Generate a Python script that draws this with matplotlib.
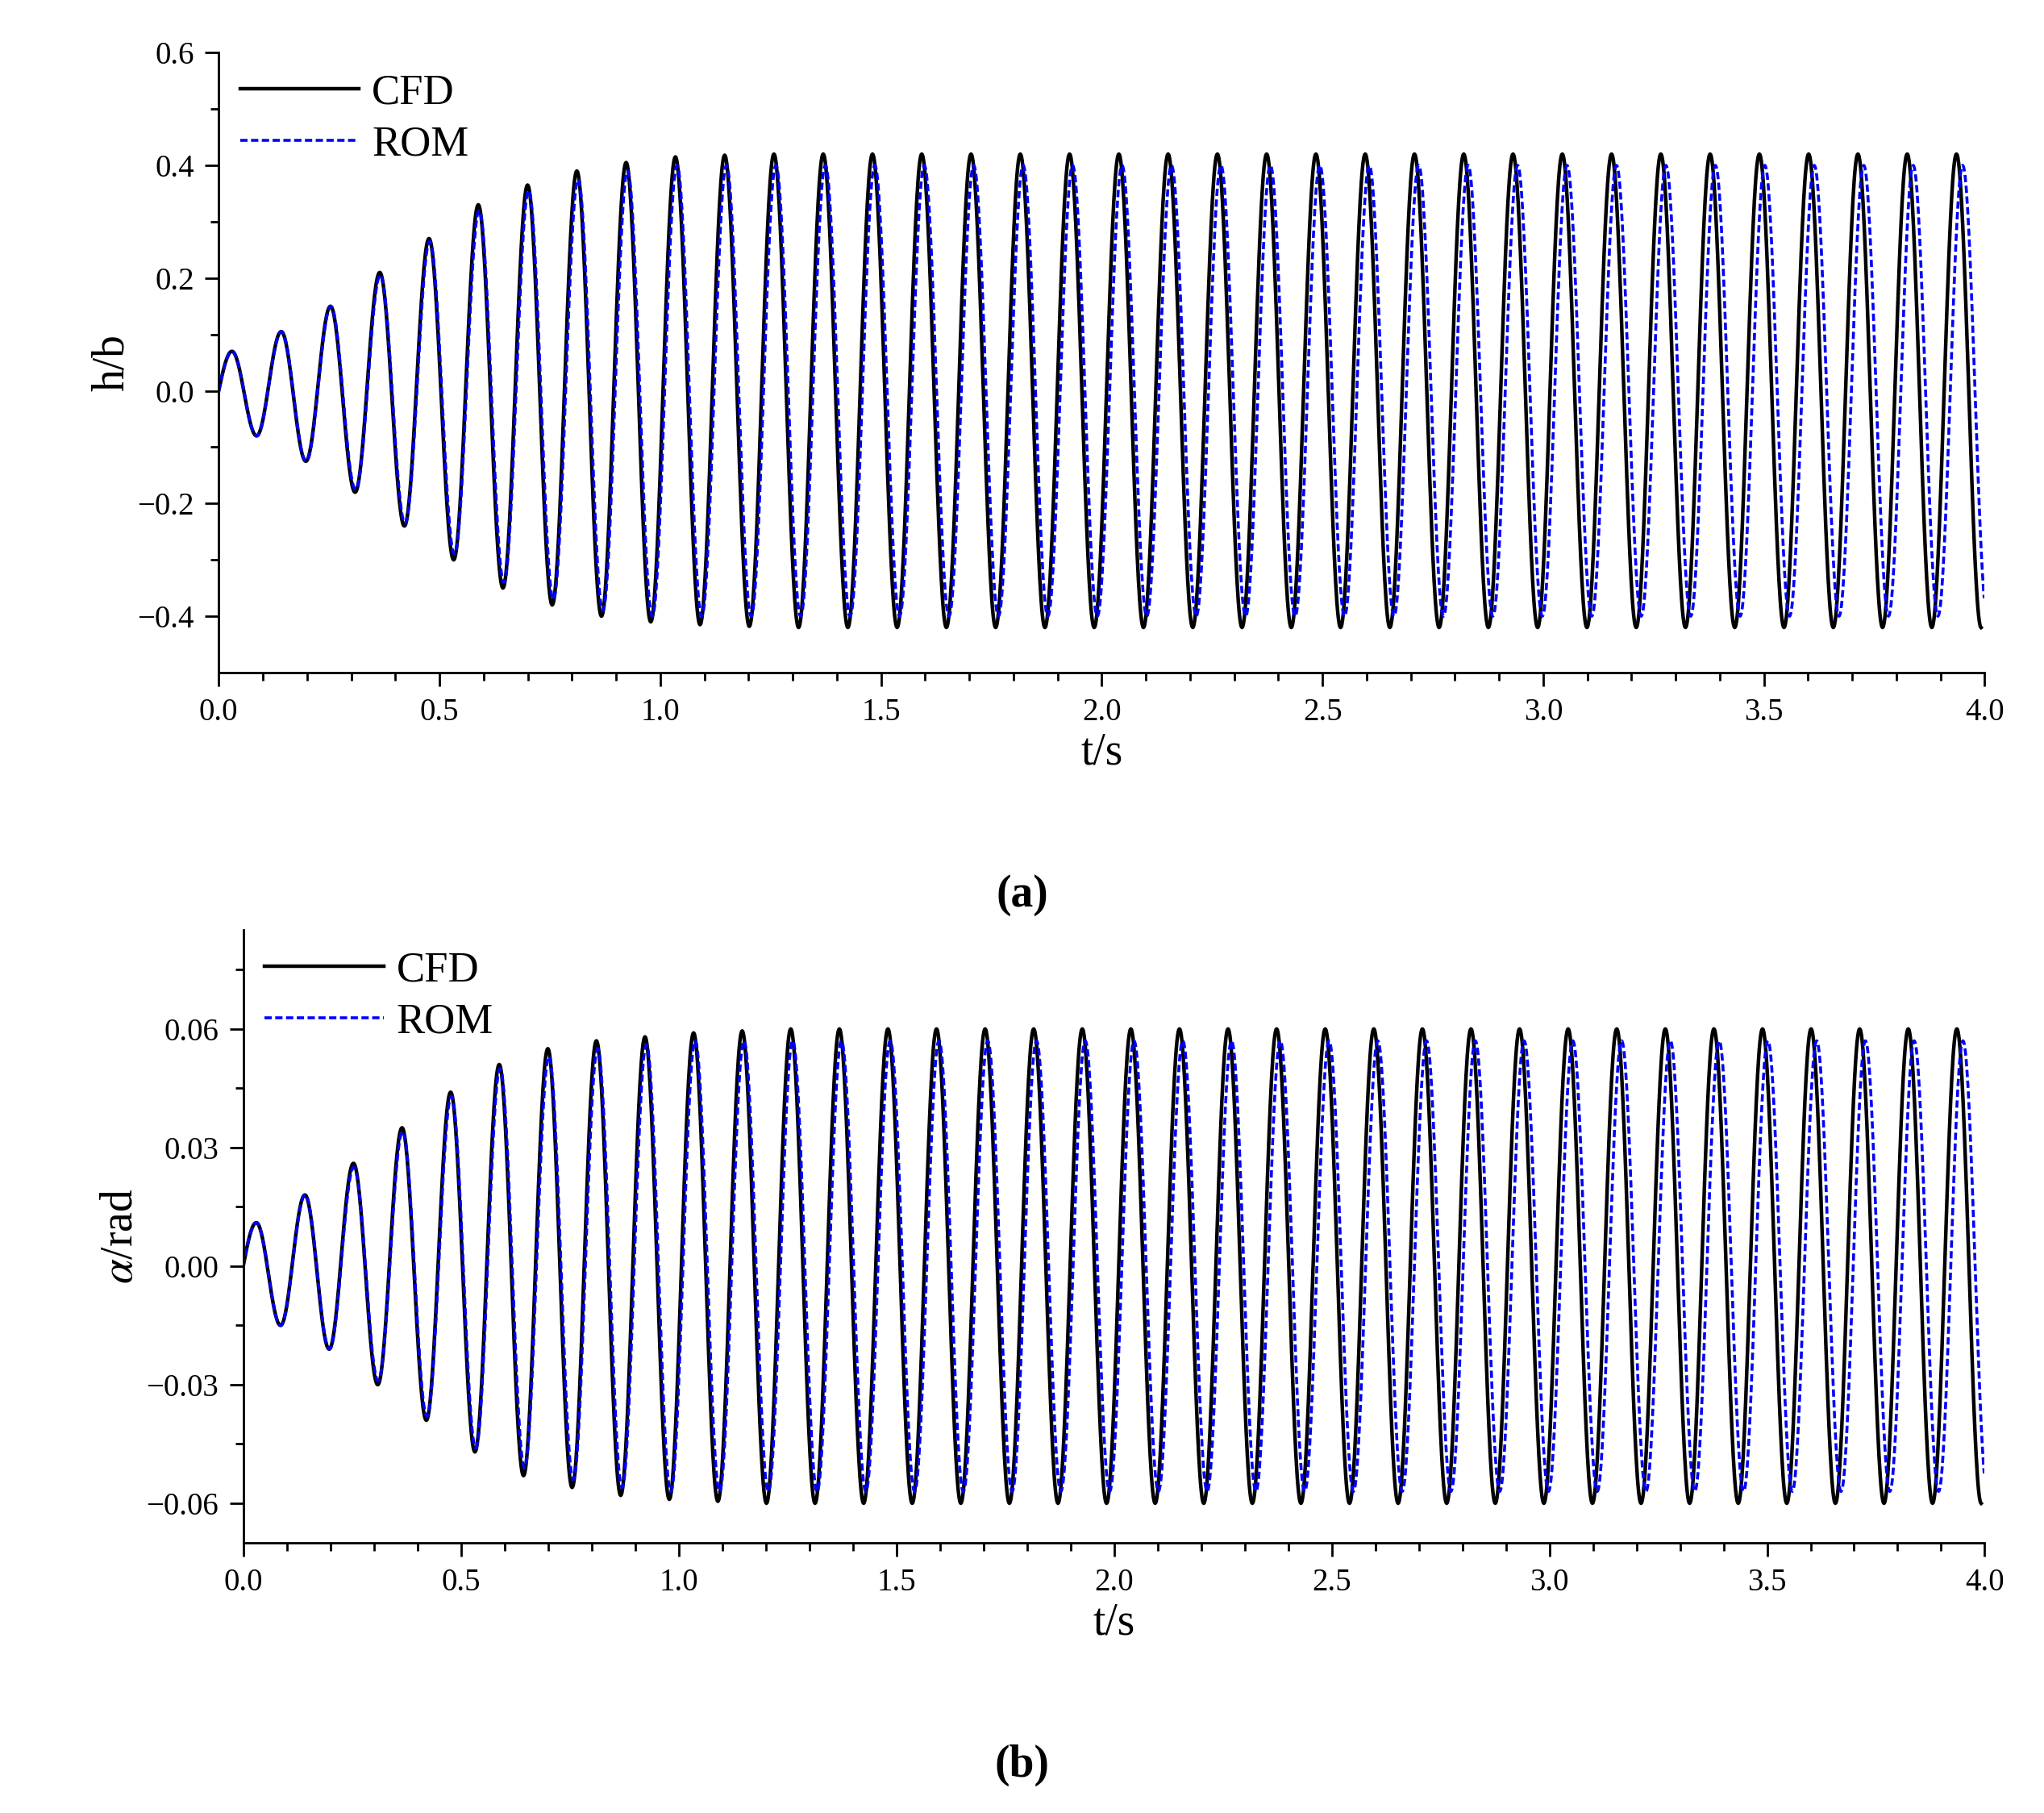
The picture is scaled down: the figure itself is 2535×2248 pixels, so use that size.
import numpy as np
import matplotlib.pyplot as plt

plt.rcParams['font.family'] = 'Liberation Serif'
plt.rcParams['mathtext.fontset'] = 'stix'

# extrema (peak, trough per cycle)
h_cfd_peaks = [0.07, 0.105, 0.15, 0.21, 0.27, 0.33, 0.365, 0.39, 0.405, 0.415, 0.418, 0.42,
               0.42, 0.42, 0.42, 0.42, 0.42, 0.42, 0.42, 0.42, 0.42, 0.42, 0.42, 0.42,
               0.42, 0.42, 0.42, 0.42, 0.42, 0.42, 0.42, 0.42, 0.42, 0.42, 0.42, 0.42]
h_cfd_troughs = [-0.08, -0.125, -0.18, -0.24, -0.30, -0.35, -0.38, -0.40, -0.41, -0.415, -0.418, -0.42,
                 -0.42, -0.42, -0.42, -0.42, -0.42, -0.42, -0.42, -0.42, -0.42, -0.42, -0.42, -0.42,
                 -0.42, -0.42, -0.42, -0.42, -0.42, -0.42, -0.42, -0.42, -0.42, -0.42, -0.42, -0.42]
h_rom_peaks = [0.07, 0.105, 0.15, 0.205, 0.265, 0.32, 0.355, 0.375, 0.39, 0.40, 0.40, 0.40,
               0.40, 0.40, 0.40, 0.40, 0.40, 0.40, 0.40, 0.40, 0.40, 0.40, 0.40, 0.40,
               0.40, 0.40, 0.40, 0.40, 0.40, 0.40, 0.40, 0.40, 0.40, 0.40, 0.40, 0.40]
h_rom_troughs = [-0.08, -0.125, -0.175, -0.235, -0.29, -0.34, -0.37, -0.39, -0.40, -0.40, -0.40, -0.40,
                 -0.40, -0.40, -0.40, -0.40, -0.40, -0.40, -0.40, -0.40, -0.40, -0.40, -0.40, -0.40,
                 -0.40, -0.40, -0.40, -0.40, -0.40, -0.40, -0.40, -0.40, -0.40, -0.40, -0.40, -0.40]

a_cfd_peaks = [0.011, 0.018, 0.026, 0.035, 0.044, 0.051, 0.055, 0.057, 0.058, 0.059, 0.0595, 0.06,
               0.06, 0.06, 0.06, 0.06, 0.06, 0.06, 0.06, 0.06, 0.06, 0.06, 0.06, 0.06,
               0.06, 0.06, 0.06, 0.06, 0.06, 0.06, 0.06, 0.06, 0.06, 0.06, 0.06, 0.06]
a_cfd_troughs = [-0.015, -0.021, -0.030, -0.039, -0.047, -0.053, -0.056, -0.058, -0.059, -0.0595, -0.06, -0.06,
                 -0.06, -0.06, -0.06, -0.06, -0.06, -0.06, -0.06, -0.06, -0.06, -0.06, -0.06, -0.06,
                 -0.06, -0.06, -0.06, -0.06, -0.06, -0.06, -0.06, -0.06, -0.06, -0.06, -0.06, -0.06]
a_rom_peaks = [0.011, 0.018, 0.025, 0.034, 0.043, 0.050, 0.053, 0.055, 0.056, 0.057, 0.057, 0.057,
               0.057, 0.057, 0.057, 0.057, 0.057, 0.057, 0.057, 0.057, 0.057, 0.057, 0.057, 0.057,
               0.057, 0.057, 0.057, 0.057, 0.057, 0.057, 0.057, 0.057, 0.057, 0.057, 0.057, 0.057]
a_rom_troughs = [-0.015, -0.021, -0.029, -0.038, -0.046, -0.051, -0.054, -0.056, -0.057, -0.057, -0.057, -0.057,
                 -0.057, -0.057, -0.057, -0.057, -0.057, -0.057, -0.057, -0.057, -0.057, -0.057, -0.057, -0.057,
                 -0.057, -0.057, -0.057, -0.057, -0.057, -0.057, -0.057, -0.057, -0.057, -0.057, -0.057, -0.057]

first_peak_t = 0.03
half_period_cfd = 0.0558
half_period_rom = 0.0560


def build(peaks, troughs, t0, hp):
    # extrema as knots, joined by half-cosine segments
    ext_t = [0.0]
    ext_v = [0.0]
    for i, (p, q) in enumerate(zip(peaks, troughs)):
        ext_t += [t0 + 2 * i * hp, t0 + (2 * i + 1) * hp]
        ext_v += [p, q]
    ts, vs = [], []
    for k in range(len(ext_t) - 1):
        s = np.linspace(0, 1, 40)
        tt = ext_t[k] + s * (ext_t[k + 1] - ext_t[k])
        w = (1 - np.cos(np.pi * s)) / 2
        if k == 0:
            w = np.sin(np.pi * s / 2)
        vv = ext_v[k] + w * (ext_v[k + 1] - ext_v[k])
        ts.append(tt)
        vs.append(vv)
    t = np.concatenate(ts)
    v = np.concatenate(vs)
    m = t <= 4.0
    return t[m], v[m]


fig = plt.figure(figsize=(25.35, 22.48), dpi=100)
ax1 = fig.add_axes([0.107, 0.629, 0.864, 0.342])
ax2 = fig.add_axes([0.119, 0.149, 0.852, 0.338])

panels = [
    (ax1, h_cfd_peaks, h_cfd_troughs, h_rom_peaks, h_rom_troughs, 'h/b',
     (-0.5, 0.6), np.arange(-0.4, 0.61, 0.2), 0.1, '(a)', 0.5),
    (ax2, a_cfd_peaks, a_cfd_troughs, a_rom_peaks, a_rom_troughs, r'$\alpha$/rad',
     (-0.07, 0.085), np.arange(-0.06, 0.061, 0.03), 0.015, '(b)', 0.05),
]

for ax, cp, ct, rp, rt, ylab, ylim, yt, ymin, tag, tagy in panels:
    t, v = build(cp, ct, first_peak_t, half_period_cfd)
    ax.plot(t, v, color='black', lw=3.2, label='CFD')
    t, v = build(rp, rt, first_peak_t, half_period_rom)
    ax.plot(t, v, color='blue', lw=2.6, ls=(0, (2.5, 1.2)), label='ROM')
    ax.set_xlim(0, 4.0)
    ax.set_ylim(*ylim)
    ax.set_xticks(np.arange(0, 4.01, 0.5))
    ax.set_xticks(np.arange(0, 4.01, 0.1), minor=True)
    ax.set_yticks(yt)
    ax.set_yticks(np.arange(yt[0] - ymin * 0, ylim[1], ymin), minor=True)
    if ylab == 'h/b':
        ax.set_yticklabels(['\u22120.4', '\u22120.2', '0.0', '0.2', '0.4', '0.6'])
    else:
        ax.set_yticklabels(['\u22120.06', '\u22120.03', '0.00', '0.03', '0.06'])
    ax.set_xticklabels(['0.0', '0.5', '1.0', '1.5', '2.0', '2.5', '3.0', '3.5', '4.0'])
    for s in ['top', 'right']:
        ax.spines[s].set_visible(False)
    for s in ['left', 'bottom']:
        ax.spines[s].set_linewidth(2)
    ax.tick_params(which='major', length=12, width=2, labelsize=28, pad=10)
    ax.tick_params(which='minor', length=7, width=2)
    ax.set_xlabel('t/s', fontsize=40)
    ax.set_ylabel(ylab, fontsize=40)
    ax.legend(loc='upper left', fontsize=38, frameon=False, handlelength=2.8,
              borderaxespad=0.1, handletextpad=0.3, labelspacing=0.3)
    fig.text(0.5, tagy if tag == '(a)' else 0.02, tag, ha='center', fontsize=40,
             fontweight='bold')

fig.savefig('out.png', dpi=100)
